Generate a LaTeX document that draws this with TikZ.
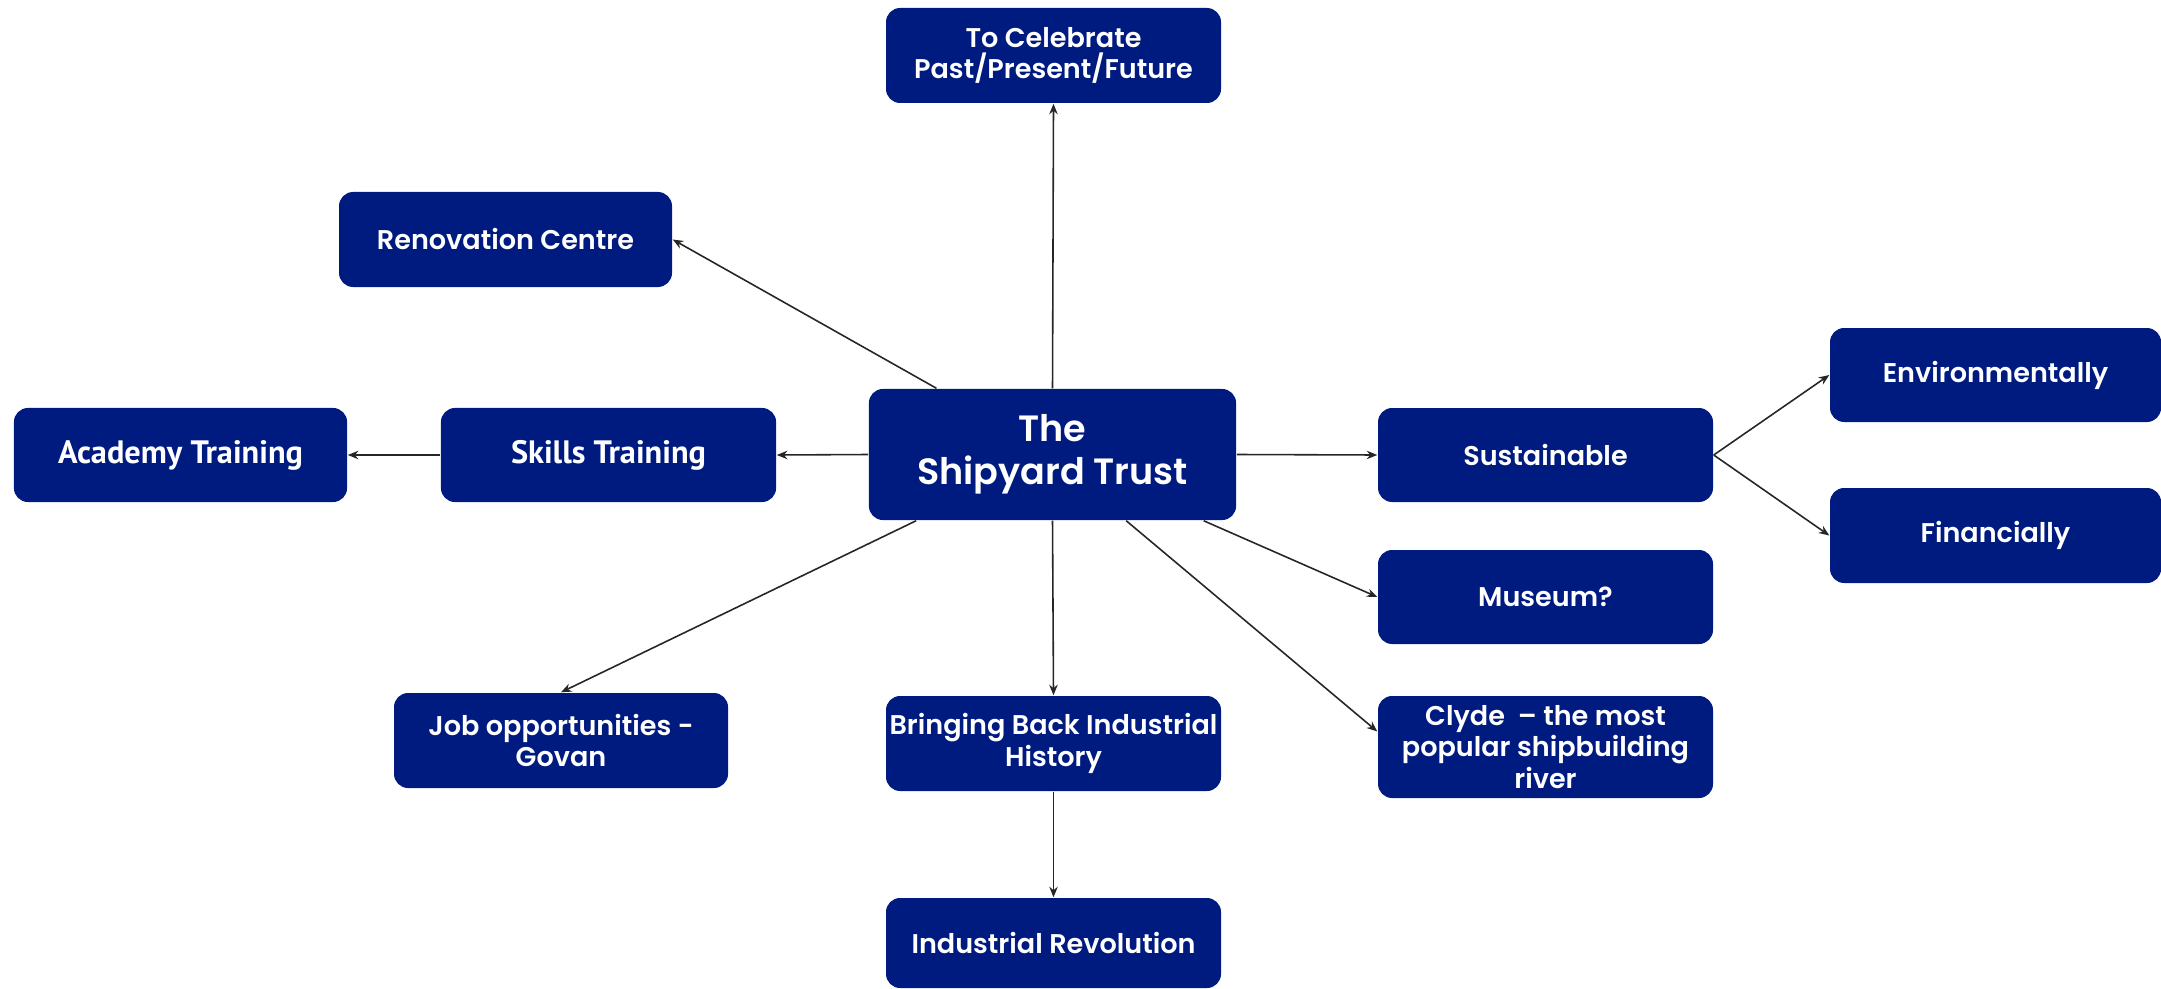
\documentclass[tikz,border=0pt]{standalone}
\usepackage{fontspec}
\setmainfont{Poppins}[BoldFont={* SemiBold}]
\newfontfamily\narrowfont{PT Sans}
\usetikzlibrary{arrows.meta,calc}
\definecolor{boxblue}{RGB}{0,27,128}
\begin{document}
\begin{tikzpicture}[x=0.01cm,y=-0.01cm,
  box/.style={fill=boxblue,draw=none,rounded corners=4pt,text=white,align=center,font=\bfseries\fontsize{7.7}{9}\selectfont,inner sep=0pt},
  conn/.style={draw=black!85,line width=0.45pt,-{Stealth[length=3pt,width=2.4pt]}}]
\useasboundingbox (0,0) rectangle (2161,988);
\newcommand{\bx}[6]{\node[box,minimum width=#4*0.01cm-#2*0.01cm,minimum height=#5*0.01cm-#3*0.01cm] (#1) at ({(#2+#4)/2},{(#3+#5)/2}) {#6};}
\bx{cel}{886}{8}{1221}{103}{To Celebrate\\Past/Present/Future}
\bx{ren}{339}{192}{672}{287}{Renovation Centre}
\node[box,minimum width=3.67cm,minimum height=1.31cm,font=\bfseries\fontsize{10.4}{12.2}\selectfont] (c) at (1052.5,454.5) {The\\Shipyard Trust};
\bx{env}{1830}{328}{2161}{422}{Environmentally}
\node[box,minimum width=3.33cm,minimum height=0.94cm,font=\narrowfont\bfseries\fontsize{9.2}{10}\selectfont] (aca) at (180.5,455) {Academy Training};
\node[box,minimum width=3.35cm,minimum height=0.94cm,font=\narrowfont\bfseries\fontsize{9.2}{10}\selectfont] (ski) at (608.5,455) {Skills Training};
\bx{sus}{1378}{408}{1713}{502}{Sustainable}
\bx{fin}{1830}{488}{2161}{583}{Financially}
\bx{mus}{1378}{550}{1713}{644}{Museum?}
\bx{job}{394}{693}{728}{788}{Job opportunities -\\Govan}
\bx{bri}{886}{696}{1221}{791}{Bringing Back Industrial\\History}
\bx{cly}{1378}{696}{1713}{798}{Clyde\ \ -- the most\\popular shipbuilding\\river}
\bx{ind}{886}{898}{1221}{988}{Industrial Revolution}
% connectors
\draw[conn] (c.north) -- (cel.south);
\draw[conn] ($(c.north west)!0.185!(c.north east)$) -- (ren.east);
\draw[conn] (c.west) -- (ski.east);
\draw[conn] (ski.west) -- (aca.east);
\draw[conn] (c.east) -- (sus.west);
\draw[conn] (sus.east) -- ($(env.north west)!0.5!(env.south west)$);
\draw[conn] (sus.east) -- (fin.west);
\draw[conn] ($(c.south west)!0.91!(c.south east)$) -- (mus.west);
\draw[conn] ($(c.south west)!0.70!(c.south east)$) -- ($(cly.north west)!0.35!(cly.south west)$);
\draw[conn] ($(c.south west)!0.13!(c.south east)$) -- ($(job.north west)!0.5!(job.north east)$);
\draw[conn] (c.south) -- (bri.north);
\draw[conn] (bri.south) -- (ind.north);
\end{tikzpicture}
\end{document}
